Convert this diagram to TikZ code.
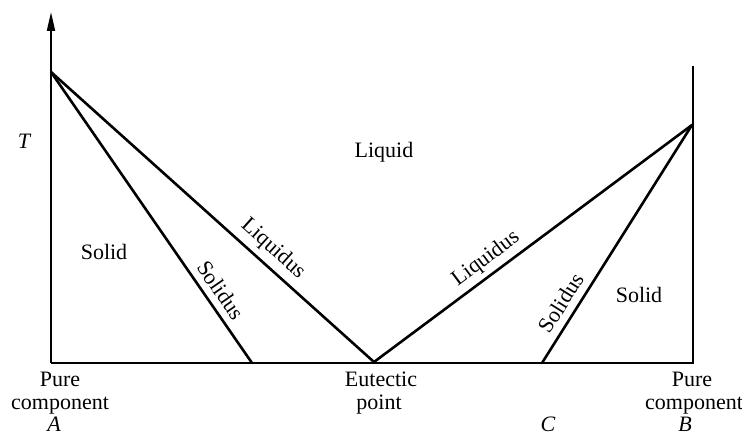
\documentclass[tikz,border=0pt]{standalone}
\usepackage{fontspec}
\setmainfont{Liberation Serif}
\usetikzlibrary{arrows.meta}
\begin{document}
\begin{tikzpicture}[x=1pt,y=-1pt,
  lbl/.style={font=\fontsize{22}{24}\selectfont, inner sep=0pt},
  ital/.style={lbl, font=\fontsize{22}{24}\selectfont\itshape},
  curve/.style={line width=2.6pt, line cap=round, line join=round},
  axis/.style={line width=2pt}]
\useasboundingbox (0,0) rectangle (742,436);
% key points
\coordinate (top) at (51,12);
\coordinate (A) at (51,72);
\coordinate (O) at (51,363);
\coordinate (S1) at (252,363);
\coordinate (E) at (374,362);
\coordinate (S2) at (542,363);
\coordinate (Bb) at (693,363);
\coordinate (B) at (692,125);
\coordinate (Bt) at (693,66);
% axes
\draw[axis, -{Triangle[length=19pt,width=8pt]}] (O) -- (top);
\draw[axis] (O) -- (Bb) -- (Bt);
% curves
\draw[curve] (A) -- (E) -- (B);
\draw[curve] (A) -- (S1);
\draw[curve] (B) -- (S2);
% labels
\node[ital, anchor=base] (T) at (24,148) {T};
\node[lbl] (liq) at (384,152) {Liquid};
\node[lbl] (sol1) at (104,252) {Solid};
\node[lbl] (sol2) at (639,295) {Solid};
\node[lbl, rotate=-41.9] (liqL) at (273,249) {Liquidus};
\node[lbl, rotate=-55.3] (solL) at (221,290) {Solidus};
\node[lbl, rotate=36.8] (liqR) at (486,259) {Liquidus};
\node[lbl, rotate=57.8] (solR) at (561,303) {Solidus};
\node[lbl, anchor=base] (pa1) at (60,386) {Pure};
\node[lbl, anchor=base] (pa2) at (60,409) {component};
\node[ital, anchor=base] (a) at (54,431) {A};
\node[lbl, anchor=base] (ep1) at (381,386) {Eutectic};
\node[lbl, anchor=base] (ep2) at (379,409) {point};
\node[ital, anchor=base] (c) at (548,431) {C};
\node[lbl, anchor=base] (pb1) at (692,386) {Pure};
\node[lbl, anchor=base] (pb2) at (694,409) {component};
\node[ital, anchor=base] (b) at (685,431) {B};
\end{tikzpicture}
\end{document}
